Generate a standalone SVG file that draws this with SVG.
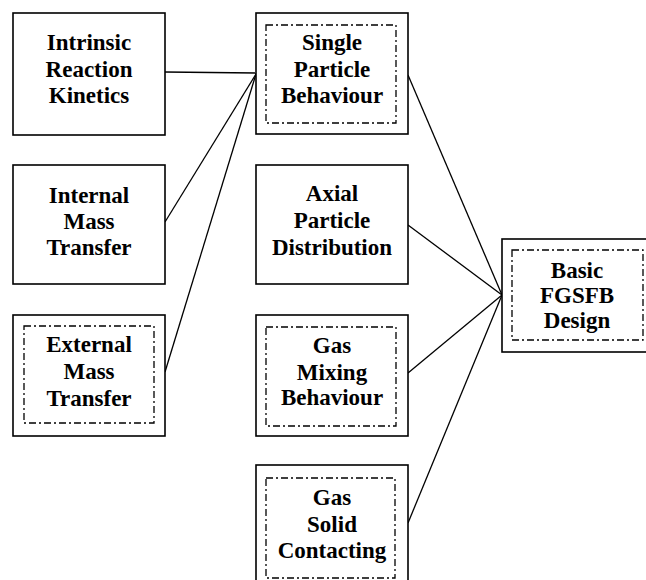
<svg xmlns="http://www.w3.org/2000/svg" width="646" height="580" viewBox="0 0 646 580">
<style>
.outer{fill:#fff;stroke:#000;stroke-width:1.6}
.inner{fill:none;stroke:#000;stroke-width:1.3;stroke-dasharray:7 3 2 3}
.conn{stroke:#000;stroke-width:1.3;fill:none}
text{font-family:"Liberation Serif","Times New Roman",serif;font-weight:bold;font-size:23px;text-anchor:middle;fill:#000}
</style>
<rect width="646" height="580" fill="#fff"/>
<g id="connectors">
<line class="conn" x1="165" y1="72" x2="256" y2="73"/>
<line class="conn" x1="165" y1="222" x2="256" y2="74"/>
<line class="conn" x1="165" y1="372" x2="256" y2="74"/>
<line class="conn" x1="408" y1="75" x2="502" y2="295"/>
<line class="conn" x1="408" y1="225" x2="502" y2="295"/>
<line class="conn" x1="408" y1="373" x2="502" y2="295"/>
<line class="conn" x1="408" y1="523" x2="502" y2="295"/>
</g>
<g id="intrinsic">
<rect class="outer" x="13" y="13" width="152" height="122"/>
<text x="89" y="50">Intrinsic</text>
<text x="89" y="77">Reaction</text>
<text x="89" y="103">Kinetics</text>
</g>
<g id="internal">
<rect class="outer" x="13" y="165" width="152" height="119"/>
<text x="89" y="203">Internal</text>
<text x="89" y="229">Mass</text>
<text x="89" y="255">Transfer</text>
</g>
<g id="external">
<rect class="outer" x="13" y="315" width="152" height="121"/>
<rect class="inner" x="24" y="326" width="130" height="97"/>
<text x="89" y="352">External</text>
<text x="89" y="379">Mass</text>
<text x="89" y="406">Transfer</text>
</g>
<g id="single">
<rect class="outer" x="256" y="13" width="152" height="121"/>
<rect class="inner" x="266" y="25" width="130" height="98"/>
<text x="332" y="50">Single</text>
<text x="332" y="77">Particle</text>
<text x="332" y="103">Behaviour</text>
</g>
<g id="axial">
<rect class="outer" x="256" y="165" width="152" height="119"/>
<text x="332" y="201">Axial</text>
<text x="332" y="228">Particle</text>
<text x="332" y="255">Distribution</text>
</g>
<g id="gasmixing">
<rect class="outer" x="256" y="315" width="152" height="121"/>
<rect class="inner" x="266" y="327" width="130" height="99"/>
<text x="332" y="353">Gas</text>
<text x="332" y="380">Mixing</text>
<text x="332" y="405">Behaviour</text>
</g>
<g id="gassolid">
<rect class="outer" x="256" y="465" width="152" height="125"/>
<rect class="inner" x="266" y="478" width="129" height="100"/>
<text x="332" y="505">Gas</text>
<text x="332" y="532">Solid</text>
<text x="332" y="558">Contacting</text>
</g>
<g id="basic">
<rect class="outer" x="502" y="239" width="148" height="113"/>
<rect class="inner" x="512" y="250" width="131" height="90"/>
<text x="577" y="278">Basic</text>
<text x="577" y="303">FGSFB</text>
<text x="577" y="328">Design</text>
</g>
</svg>
